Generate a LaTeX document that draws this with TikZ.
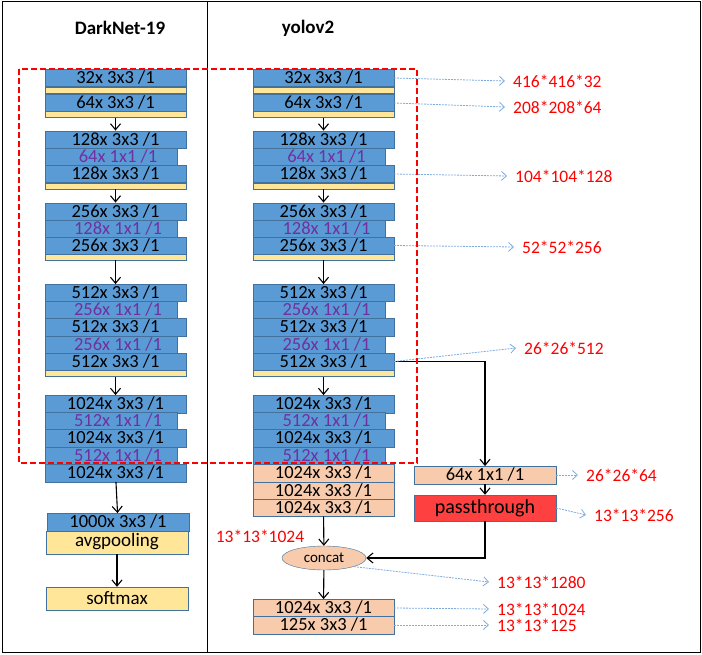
\documentclass[tikz,border=0pt]{standalone}
\usepackage{fontspec}
\setmainfont{Carlito}
\usetikzlibrary{arrows.meta,shapes.geometric}
\definecolor{convblue}{RGB}{91,155,213}
\definecolor{convedge}{RGB}{65,113,156}
\definecolor{bnyellow}{RGB}{255,230,153}
\definecolor{headorange}{RGB}{248,203,173}
\definecolor{ptred}{RGB}{255,64,64}
\definecolor{onebyone}{RGB}{112,48,160}
\definecolor{shapeblue}{RGB}{125,172,222}
\begin{document}
\begin{tikzpicture}[x=1pt,y=-1pt,>={Straight Barb[length=6pt,width=10pt]},
	conv/.style={draw=convedge,fill=convblue,minimum width=141pt,minimum height=17.4pt,inner sep=0pt,text height=11.5pt,text depth=0pt,font=\fontsize{18.5}{18.5}\selectfont},
	reduce/.style={conv,minimum width=132pt,text=onebyone},
	head/.style={conv,fill=headorange},
	bn/.style={draw=convedge,fill=bnyellow,minimum width=141pt,minimum height=6pt,inner sep=0pt},
	shapelbl/.style={anchor=west,text=red,inner xsep=8pt,inner ysep=0pt,font=\fontsize{17.5}{17.5}\selectfont},
	shapearrow/.style={-{Straight Barb[length=5pt,width=9pt]},draw=shapeblue,line width=0.8pt,dash pattern=on 2pt off 1pt},
	flow/.style={line width=1.1pt}]
	\useasboundingbox (0,0) rectangle (702,655);
	\draw[line width=1pt] (2,2) rectangle (700,652);
	\draw[line width=1pt] (207,2) -- (207,652);
	\node (t1) at (120,28) {\fontsize{19}{19}\selectfont\bfseries DarkNet-19};
	\node (t2) at (308,28) {\fontsize{19}{19}\selectfont\bfseries yolov2};

	% DarkNet-19
	\node[conv] (L1) at (115.5,78) {32x 3x3 /1};
	\node[bn] (L1b) at (115.5,90) {};
	\node[conv] (L2) at (115.5,103) {64x 3x3 /1};
	\node[bn] (L2b) at (115.5,114.5) {};
	\node[conv] (L3a) at (115.5,139.5) {128x 3x3 /1} edge[<-,flow] (L2b);
	\node[reduce] (L3b) at (111,156.5) {\hspace*{14pt}64x 1x1 /1};
	\node[conv] (L3c) at (115.5,174) {128x 3x3 /1};
	\node[bn] (L3d) at (115.5,186) {};
	\node[conv] (L4a) at (115.5,211.5) {256x 3x3 /1} edge[<-,flow] (L3d);
	\node[reduce] (L4b) at (111,228.5) {\hspace*{14pt}128x 1x1 /1};
	\node[conv] (L4c) at (115.5,245.5) {256x 3x3 /1};
	\node[bn] (L4d) at (115.5,257) {};
	\node[conv] (L5a) at (115.5,293) {512x 3x3 /1} edge[<-,flow] (L4d);
	\node[reduce] (L5b) at (111,310) {\hspace*{14pt}256x 1x1 /1};
	\node[conv] (L5c) at (115.5,327) {512x 3x3 /1};
	\node[reduce] (L5d) at (111,344.5) {\hspace*{14pt}256x 1x1 /1};
	\node[conv] (L5e) at (115.5,361.5) {512x 3x3 /1};
	\node[bn] (L5f) at (115.5,373.5) {};
	\node[conv] (L6a) at (115.5,404) {1024x 3x3 /1} edge[<-,flow] (L5f);
	\node[reduce] (L6b) at (111,421) {\hspace*{14pt}512x 1x1 /1};
	\node[conv] (L6c) at (115.5,438) {1024x 3x3 /1};
	\node[reduce] (L6d) at (111,455.5) {\hspace*{14pt}512x 1x1 /1};
	\node[conv] (L6e) at (115.5,473) {1024x 3x3 /1};
	\node[conv,minimum width=142pt] (L7) at (118,522) {1000x 3x3 /1} edge[<-,flow] (L6e);
	\node[bn,minimum width=142pt,minimum height=23pt,text height=12pt,font=\fontsize{19}{19}\selectfont] (L8) at (117,542.5) {avgpooling};
	\node[bn,minimum width=142pt,minimum height=23pt,text height=12pt,font=\fontsize{19}{19}\selectfont] (L9) at (117,598.5) {softmax} edge[<-,flow] (L8);

	% yolov2
	\node[conv] (R1) at (323.5,78) {32x 3x3 /1};
	\node[bn] (R1b) at (323.5,90) {};
	\node[conv] (R2) at (323.5,103) {64x 3x3 /1};
	\node[bn] (R2b) at (323.5,114.5) {};
	\node[conv] (R3a) at (323.5,139.5) {128x 3x3 /1} edge[<-,flow] (R2b);
	\node[reduce] (R3b) at (319.5,156.5) {\hspace*{14pt}64x 1x1 /1};
	\node[conv] (R3c) at (323.5,174) {128x 3x3 /1};
	\node[bn] (R3d) at (323.5,186) {};
	\node[conv] (R4a) at (323.5,211.5) {256x 3x3 /1} edge[<-,flow] (R3d);
	\node[reduce] (R4b) at (319.5,228.5) {\hspace*{14pt}128x 1x1 /1};
	\node[conv] (R4c) at (323.5,245.5) {256x 3x3 /1};
	\node[bn] (R4d) at (323.5,257) {};
	\node[conv] (R5a) at (323.5,293) {512x 3x3 /1} edge[<-,flow] (R4d);
	\node[reduce] (R5b) at (319.5,310) {\hspace*{14pt}256x 1x1 /1};
	\node[conv] (R5c) at (323.5,327) {512x 3x3 /1};
	\node[reduce] (R5d) at (319.5,344.5) {\hspace*{14pt}256x 1x1 /1};
	\node[conv] (R5e) at (323.5,361.5) {512x 3x3 /1};
	\node[bn] (R5f) at (323.5,373.5) {};
	\node[conv] (R6a) at (323.5,404) {1024x 3x3 /1} edge[<-,flow] (R5f);
	\node[reduce] (R6b) at (319.5,421) {\hspace*{14pt}512x 1x1 /1};
	\node[conv] (R6c) at (323.5,438) {1024x 3x3 /1};
	\node[reduce] (R6d) at (319.5,455.5) {\hspace*{14pt}512x 1x1 /1};
	\node[head] (R7a) at (323.5,473) {1024x 3x3 /1};
	\node[head] (R7b) at (323.5,490.5) {1024x 3x3 /1};
	\node[head] (R7c) at (323.5,507.5) {1024x 3x3 /1};
	\node[ellipse,draw=convedge,fill=headorange,minimum width=84pt,minimum height=24pt,inner sep=0pt,font=\fontsize{15}{15}\selectfont] (CC) at (324,558) {concat} edge[<-,flow] (R7c);
	\node[head] (R8a) at (323.5,608) {1024x 3x3 /1} edge[<-,flow] (CC);
	\node[head] (R8b) at (323.5,625) {125x 3x3 /1};

	% passthrough branch
	\node[head,minimum width=142pt] (R64) at (485,475) {64x 1x1 /1};
	\node[conv,fill=ptred,minimum width=142pt,minimum height=26pt,font=\fontsize{20}{20}\selectfont] (PT) at (485,508) {passthrough} edge[<-,flow] (R64);
	\draw[->,flow] (R5e.east) -| (R64.north);
	\draw[->,flow] (PT.south) |- (CC.east);

	% output sizes
	\node[shapelbl] (s1) at (505,81) {416*416*32};
	\node[shapelbl] (s2) at (505,107) {208*208*64};
	\node[shapelbl] (s3) at (507,176) {104*104*128};
	\node[shapelbl] (s4) at (514,247) {52*52*256};
	\node[shapelbl] (s5) at (516,348) {26*26*512};
	\node[shapelbl] (s6) at (578,475) {26*26*64};
	\node[shapelbl] (s7) at (586,515) {13*13*256};
	\node[shapelbl] (s8) at (489,582) {13*13*1280};
	\node[shapelbl] (s9) at (489,609) {13*13*1024};
	\node[shapelbl] (s10) at (489,625) {13*13*125};
	\node[shapelbl,anchor=center,inner xsep=0pt] (s11) at (260,536) {13*13*1024};
	\draw[shapearrow] (R1.east) -- (s1.west);
	\draw[shapearrow] (R2.east) -- (s2.west);
	\draw[shapearrow] (R3c.east) -- (s3.west);
	\draw[shapearrow] (R4c.east) -- (s4.west);
	\draw[shapearrow] (R5e.east) -- (s5.west);
	\draw[shapearrow] (R64.east) -- (s6.west);
	\draw[shapearrow] (PT.east) -- (s7.west);
	\draw[shapearrow] (CC.south east) -- (s8.west);
	\draw[shapearrow] (R8a.east) -- (s9.west);
	\draw[shapearrow] (R8b.east) -- (s10.west);

	% shared backbone
	\draw[red,line width=1.5pt,dash pattern=on 6pt off 3pt] (19,69) rectangle (417,463);
\end{tikzpicture}
\end{document}
